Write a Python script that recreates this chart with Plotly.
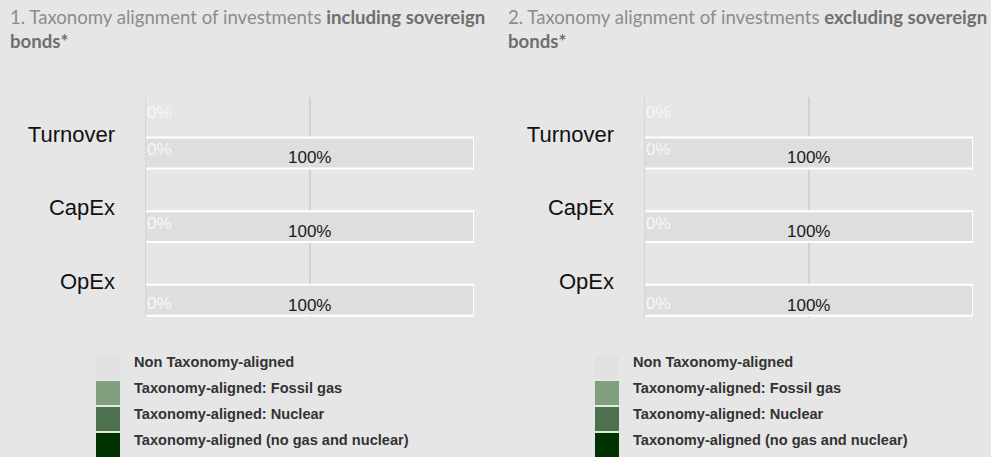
import plotly.graph_objects as go

W, H = 991, 457

# ---------------- data ----------------
categories = ["Turnover", "CapEx", "OpEx"]

# Panel 1: including sovereign bonds
p1_aligned = [0, 0, 0]          # Taxonomy-aligned (no gas and nuclear)
p1_nuclear = [0, 0, 0]
p1_fossil = [0, 0, 0]
p1_non_aligned = [100, 100, 100]

# Panel 2: excluding sovereign bonds
p2_aligned = [0, 0, 0]
p2_nuclear = [0, 0, 0]
p2_fossil = [0, 0, 0]
p2_non_aligned = [100, 100, 100]

legend_labels = [
    "Non Taxonomy-aligned",
    "Taxonomy-aligned: Fossil gas",
    "Taxonomy-aligned: Nuclear",
    "Taxonomy-aligned (no gas and nuclear)",
]

title1_plain = "1. Taxonomy alignment of investments "
title1_bold = "including sovereign<br>bonds*"
title2_plain = "2. Taxonomy alignment of investments "
title2_bold = "excluding sovereign<br>bonds*"

# ---------------- style ----------------
BG = "#e6e6e6"
C_NON = "#dedede"
C_FOSSIL = "#7f9f7f"
C_NUCLEAR = "#4d704d"
C_ALIGNED = "#003300"
legend_colors = ["#e1e1e1", C_FOSSIL, C_NUCLEAR, C_ALIGNED]

panels = [
    dict(xa="x", ya="y", xdom=(145 / W, 474 / W), aligned=p1_aligned,
         nuclear=p1_nuclear, fossil=p1_fossil, non=p1_non_aligned,
         legend_x=96, title_x=8, title=(title1_plain, title1_bold)),
    dict(xa="x2", ya="y2", xdom=(644 / W, 973 / W), aligned=p2_aligned,
         nuclear=p2_nuclear, fossil=p2_fossil, non=p2_non_aligned,
         legend_x=595, title_x=506, title=(title2_plain, title2_bold)),
]
ydom = (1 - 318 / H, 1 - 97 / H)
BAR_OFFSET, BAR_WIDTH = 0.05, 0.42
# vertical pixel shifts of the white "0%" labels (upper slot / in-bar)
zero_upper_shift = {"Turnover": 21}
zero_lower_shift = {"Turnover": -16, "CapEx": -16, "OpEx": -22}

fig = go.Figure()
annotations = []
shapes = []

for p in panels:
    common = dict(orientation="h", y=categories, xaxis=p["xa"], yaxis=p["ya"],
                  offset=BAR_OFFSET, width=BAR_WIDTH, showlegend=False,
                  hoverinfo="skip")
    # stacked: aligned, nuclear, fossil, non-aligned
    fig.add_trace(go.Bar(x=p["aligned"], marker=dict(color=C_ALIGNED, line=dict(width=0)), **common))
    fig.add_trace(go.Bar(x=p["nuclear"], base=p["aligned"],
                         marker=dict(color=C_NUCLEAR, line=dict(width=0)), **common))
    base_f = [a + n for a, n in zip(p["aligned"], p["nuclear"])]
    fig.add_trace(go.Bar(x=p["fossil"], base=base_f,
                         marker=dict(color=C_FOSSIL, line=dict(width=0)), **common))
    base_n = [b + f for b, f in zip(base_f, p["fossil"])]
    fig.add_trace(go.Bar(x=p["non"], base=base_n,
                         marker=dict(color=C_NON, line=dict(color="white", width=2)), **common))

    for i, cat in enumerate(categories):
        # 100% label
        annotations.append(dict(
            x=base_n[i] + p["non"][i] / 2, y=cat, xref=p["xa"], yref=p["ya"],
            text=f"{p['non'][i]:.0f}%", showarrow=False, yshift=-24,
            font=dict(family="Arial, Liberation Sans", size=17, color="#1a1a1a")))
        # white 0% labels
        val = p["aligned"][i] + p["nuclear"][i] + p["fossil"][i]
        annotations.append(dict(
            x=val, y=cat, xref=p["xa"], yref=p["ya"], xanchor="left",
            text=f"{val:.0f}%", showarrow=False, yshift=zero_lower_shift[cat],
            font=dict(family="Arial, Liberation Sans", size=17, color="#f7f7f7")))
        if cat in zero_upper_shift:
            annotations.append(dict(
                x=p["aligned"][i], y=cat, xref=p["xa"], yref=p["ya"], xanchor="left",
                text=f"{p['aligned'][i]:.0f}%", showarrow=False, yshift=zero_upper_shift[cat],
                font=dict(family="Arial, Liberation Sans", size=17, color="#f7f7f7")))

    # title
    annotations.append(dict(
        x=p["title_x"] / W, y=1 - 4 / H, xref="paper", yref="paper",
        xanchor="left", yanchor="top", align="left", showarrow=False,
        text=f"<span style='color:#8c8c8c'>{p['title'][0]}</span>"
             f"<b style='color:#6f6f6f'>{p['title'][1]}</b>",
        font=dict(family="Lato", size=18.6, color="#8c8c8c")))

    # legend
    for k, (lab, col) in enumerate(zip(legend_labels, legend_colors)):
        top = 355 + 26 * k
        shapes.append(dict(type="rect", xref="paper", yref="paper",
                           x0=p["legend_x"] / W, x1=(p["legend_x"] + 24) / W,
                           y0=1 - (top + 24) / H, y1=1 - top / H,
                           fillcolor=col, line=dict(width=0)))
        annotations.append(dict(
            x=(p["legend_x"] + 36) / W, y=1 - (top + 7) / H, xref="paper", yref="paper",
            xanchor="left", yanchor="middle", showarrow=False, text=f"<b>{lab}</b>",
            font=dict(family="Arial, Liberation Sans", size=14.6, color="#333333")))

axis_x = dict(range=[0, 100], tickvals=[0, 50, 100], showticklabels=False,
              showgrid=True, gridcolor="#d2d2d2", gridwidth=2, zeroline=False,
              showline=False, fixedrange=True)
axis_y = dict(categoryorder="array", categoryarray=categories, autorange="reversed",
              showgrid=False, zeroline=False, showline=False, ticks="",
              ticklabelstandoff=29,
              tickfont=dict(family="Arial, Liberation Sans", size=22, color="#111111"),
              domain=ydom, fixedrange=True)

fig.update_layout(
    width=W, height=H, margin=dict(l=0, r=0, t=0, b=0),
    paper_bgcolor=BG, plot_bgcolor=BG, barmode="overlay",
    xaxis=dict(axis_x, domain=panels[0]["xdom"], anchor="y"),
    xaxis2=dict(axis_x, domain=panels[1]["xdom"], anchor="y2"),
    yaxis=dict(axis_y, anchor="x"),
    yaxis2=dict(axis_y, anchor="x2"),
    annotations=annotations, shapes=shapes,
)
# bluish axis line at x = 0
for p in panels:
    fig.add_shape(type="line", xref=p["xa"], yref=f"{p['ya']} domain", x0=0, x1=0,
                  y0=0, y1=1, line=dict(color="#ccd6eb", width=2), layer="above")

fig.write_html(
    "out.html",
    config={"displayModeBar": False},
    post_script="document.body.style.margin='0';document.body.style.background='%s';" % BG,
)
